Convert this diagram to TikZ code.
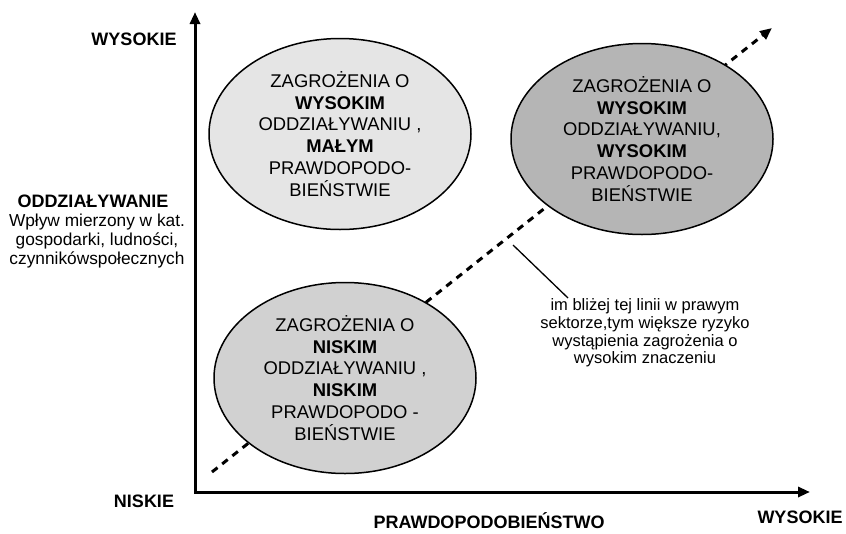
\documentclass[tikz,border=0pt]{standalone}
\usepackage{fontspec}
\setmainfont{Liberation Sans}
\usepackage{xcolor}
\definecolor{colorMixed}{gray}{0.90}
\definecolor{colorLow}{gray}{0.82}
\definecolor{colorHigh}{gray}{0.71}
\usepackage{tikz}
\usetikzlibrary{arrows.meta, shapes.geometric, positioning}
\tikzset{threat/.style={ellipse, draw, line width=1.5pt, inner sep=0pt, minimum width=262pt, minimum height=191pt, align=center, font=\fontsize{18.4}{21.8}\selectfont}}

\begin{document}
\begin{tikzpicture}[x=1pt, y=-1pt, >={Triangle[length=12pt,width=10pt]},
  axis/.style={line width=3pt, line join=miter},
  trend/.style={->, line width=3pt, dash pattern=on 7pt off 6pt},
  axislabel/.style={anchor=base, inner sep=0pt, font=\bfseries\fontsize{18}{21.8}\selectfont},
  note/.style={align=center, inner sep=0pt, font=\fontsize{16.5}{17.7}\selectfont}]
\useasboundingbox (0,0) rectangle (846,533);
\coordinate (origin) at (195,492);
\coordinate (ytip) at (195,12);
\coordinate (xtip) at (810,492);
\coordinate (tstart) at (212,472);
\coordinate (tend) at (772,28);
\coordinate (mark) at (513,245);
\coordinate (notetip) at (568,298);
\draw[axis, <->] (ytip) -- (origin) -- (xtip);
\draw[trend] (tstart) -- (tend);
\node[threat, fill=colorMixed] (mixed) at (340,134) {ZAGROŻENIA O\\\textbf{WYSOKIM}\\ODDZIAŁYWANIU ,\\\textbf{MAŁYM}\\PRAWDOPODO-\\BIEŃSTWIE};
\node[threat, fill=colorHigh] (high) at (642,139) {ZAGROŻENIA O\\\textbf{WYSOKIM}\\ODDZIAŁYWANIU,\\\textbf{WYSOKIM}\\PRAWDOPODO-\\BIEŃSTWIE};
\node[threat, fill=colorLow] (low) at (345,378) {ZAGROŻENIA O\\\textbf{NISKIM}\\ODDZIAŁYWANIU ,\\\textbf{NISKIM}\\PRAWDOPODO -\\BIEŃSTWIE};
\node[axislabel] (yhigh) at (134,45) {WYSOKIE};
\node[axislabel] (yname) at (93,207) {ODDZIAŁYWANIE};
\node[note, below=6pt of yname, xshift=4pt, font=\fontsize{17.3}{19}\selectfont] (ydesc) {Wpływ mierzony w kat.\\gospodarki, ludności,\\czynnikówspołecznych};
\node[axislabel] (ylow) at (144,507) {NISKIE};
\node[axislabel] (xname) at (489,528) {PRAWDOPODOBIEŃSTWO};
\node[axislabel] (xhigh) at (800,523) {WYSOKIE};
\node[note] (remark) at (645,333) {im bliżej tej linii w prawym\\sektorze,tym większe ryzyko\\wystąpienia zagrożenia o\\wysokim znaczeniu};
\draw[line width=1.3pt] (mark) -- (notetip);
\end{tikzpicture}
\end{document}
